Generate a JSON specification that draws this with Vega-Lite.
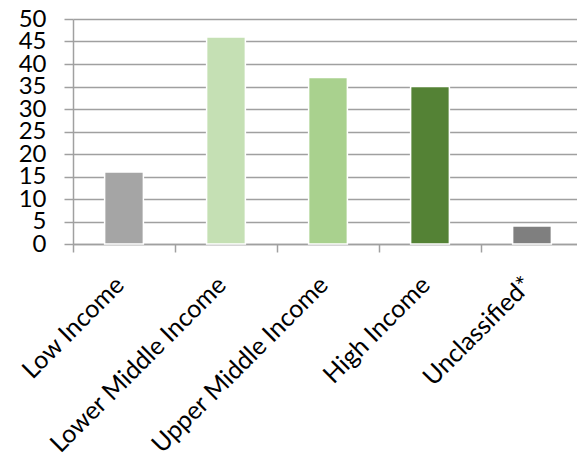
{
  "$schema": "https://vega.github.io/schema/vega-lite/v6.json",
  "autosize": "none",
  "padding": {"left": 73, "top": 19, "right": 0, "bottom": 220},
  "width": 510,
  "height": 225,
  "background": "white",
  "data": {
    "values": [
      {"category": "Low Income", "value": 16, "color": "#a5a5a5"},
      {"category": "Lower Middle Income", "value": 46, "color": "#c5e0b4"},
      {"category": "Upper Middle Income", "value": 37, "color": "#a9d18e"},
      {"category": "High Income", "value": 35, "color": "#548235"},
      {"category": "Unclassified*", "value": 4, "color": "#7f7f7f"}
    ]
  },
  "config": {
    "view": {"stroke": null},
    "font": "Lato",
    "axis": {
      "labelFont": "Lato",
      "labelColor": "#000000",
      "domainColor": "#a0a0a0",
      "tickColor": "#a0a0a0",
      "gridColor": "#a0a0a0",
      "gridWidth": 1.5,
      "domainWidth": 1.5,
      "tickWidth": 1.5
    }
  },
  "mark": {"type": "bar", "stroke": "white", "strokeWidth": 1.5, "width": {"band": 0.38}},
  "encoding": {
    "x": {
      "field": "category",
      "type": "nominal",
      "sort": null,
      "scale": {"paddingInner": 0, "paddingOuter": 0},
      "axis": {
        "title": null,
        "labelAngle": -45,
        "labelAlign": "right",
        "labelBaseline": "top",
        "labelFontSize": 25,
        "labelPadding": 20,
        "labelOffset": -13,
        "tickBand": "extent",
        "tickSize": 8,
        "labelOverlap": false,
        "labelLimit": 0
      }
    },
    "y": {
      "field": "value",
      "type": "quantitative",
      "scale": {"domain": [0, 50], "nice": false},
      "axis": {
        "title": null,
        "values": [0, 5, 10, 15, 20, 25, 30, 35, 40, 45, 50],
        "labelFontSize": 24,
        "labelPadding": 18,
        "tickSize": 9,
        "grid": true,
        "labelBaseline": "middle",
        "labelOverlap": false,
        "labelFlush": false
      }
    },
    "color": {"field": "color", "type": "nominal", "scale": null, "legend": null}
  }
}
